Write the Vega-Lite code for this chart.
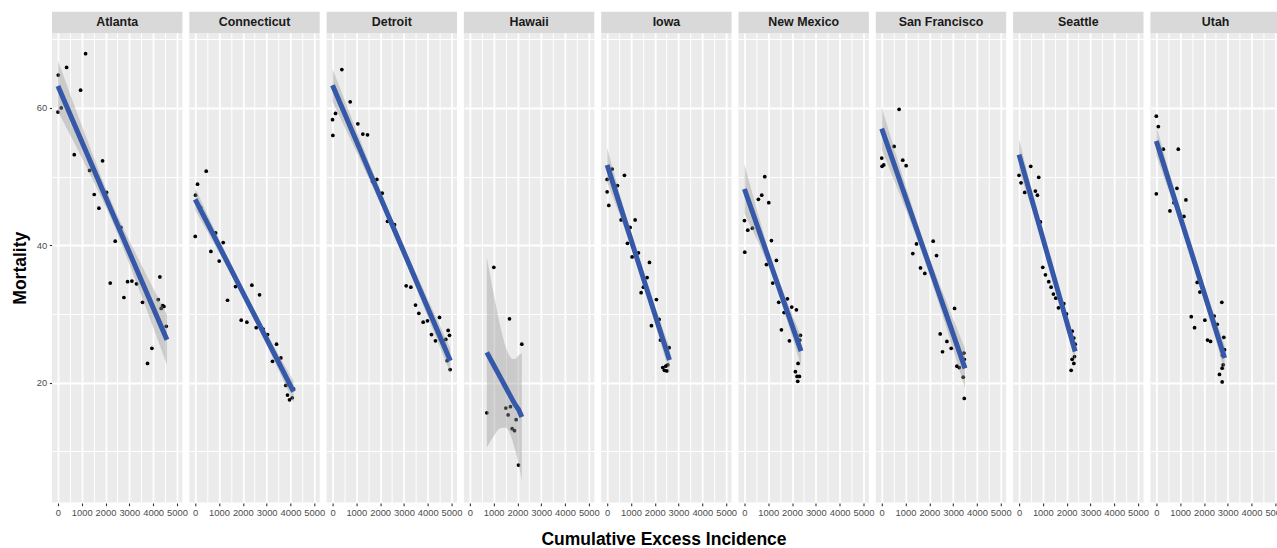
{
"$schema": "https://vega.github.io/schema/vega-lite/v6.json",
"background": "white",
"padding": {"left": 11, "top": 11, "right": 0, "bottom": 0},
"bounds": "flush",
"data": {"values": [
{"city":"Atlanta","kind":"p","x":0,"y":59.4},{"city":"Atlanta","kind":"p","x":14,"y":64.8},{"city":"Atlanta","kind":"p","x":140,"y":60.0},{"city":"Atlanta","kind":"p","x":364,"y":65.9},{"city":"Atlanta","kind":"p","x":1162,"y":67.9},{"city":"Atlanta","kind":"p","x":952,"y":62.6},{"city":"Atlanta","kind":"p","x":686,"y":53.2},{"city":"Atlanta","kind":"p","x":1330,"y":50.9},{"city":"Atlanta","kind":"p","x":1876,"y":52.3},{"city":"Atlanta","kind":"p","x":1526,"y":47.4},{"city":"Atlanta","kind":"p","x":1722,"y":45.4},{"city":"Atlanta","kind":"p","x":2044,"y":47.7},{"city":"Atlanta","kind":"p","x":2646,"y":42.6},{"city":"Atlanta","kind":"p","x":2408,"y":40.6},{"city":"Atlanta","kind":"p","x":2198,"y":34.5},{"city":"Atlanta","kind":"p","x":2772,"y":32.4},{"city":"Atlanta","kind":"p","x":2926,"y":34.7},{"city":"Atlanta","kind":"p","x":3108,"y":34.8},{"city":"Atlanta","kind":"p","x":3304,"y":34.4},{"city":"Atlanta","kind":"p","x":3556,"y":31.7},{"city":"Atlanta","kind":"p","x":3766,"y":22.8},{"city":"Atlanta","kind":"p","x":3948,"y":25.0},{"city":"Atlanta","kind":"p","x":4284,"y":35.4},{"city":"Atlanta","kind":"p","x":4214,"y":32.1},{"city":"Atlanta","kind":"p","x":4340,"y":30.8},{"city":"Atlanta","kind":"p","x":4396,"y":31.2},{"city":"Atlanta","kind":"p","x":4452,"y":31.1},{"city":"Atlanta","kind":"p","x":4550,"y":28.2},
{"city":"Connecticut","kind":"p","x":0,"y":41.3},{"city":"Connecticut","kind":"p","x":14,"y":47.3},{"city":"Connecticut","kind":"p","x":98,"y":48.9},{"city":"Connecticut","kind":"p","x":462,"y":50.8},{"city":"Connecticut","kind":"p","x":224,"y":45.5},{"city":"Connecticut","kind":"p","x":854,"y":41.8},{"city":"Connecticut","kind":"p","x":658,"y":39.1},{"city":"Connecticut","kind":"p","x":1176,"y":40.4},{"city":"Connecticut","kind":"p","x":1008,"y":37.7},{"city":"Connecticut","kind":"p","x":1358,"y":32.0},{"city":"Connecticut","kind":"p","x":1694,"y":34.0},{"city":"Connecticut","kind":"p","x":1932,"y":29.1},{"city":"Connecticut","kind":"p","x":2170,"y":28.8},{"city":"Connecticut","kind":"p","x":2380,"y":34.2},{"city":"Connecticut","kind":"p","x":2702,"y":32.8},{"city":"Connecticut","kind":"p","x":2562,"y":28.0},{"city":"Connecticut","kind":"p","x":2856,"y":27.8},{"city":"Connecticut","kind":"p","x":3038,"y":27.0},{"city":"Connecticut","kind":"p","x":3416,"y":25.6},{"city":"Connecticut","kind":"p","x":3248,"y":23.1},{"city":"Connecticut","kind":"p","x":3598,"y":23.6},{"city":"Connecticut","kind":"p","x":3808,"y":19.6},{"city":"Connecticut","kind":"p","x":3878,"y":18.2},{"city":"Connecticut","kind":"p","x":3962,"y":17.5},{"city":"Connecticut","kind":"p","x":4074,"y":17.8},{"city":"Connecticut","kind":"p","x":4130,"y":19.1},
{"city":"Detroit","kind":"p","x":0,"y":58.3},{"city":"Detroit","kind":"p","x":14,"y":56.0},{"city":"Detroit","kind":"p","x":126,"y":59.2},{"city":"Detroit","kind":"p","x":392,"y":65.6},{"city":"Detroit","kind":"p","x":742,"y":60.9},{"city":"Detroit","kind":"p","x":1064,"y":57.7},{"city":"Detroit","kind":"p","x":1274,"y":56.2},{"city":"Detroit","kind":"p","x":1470,"y":56.1},{"city":"Detroit","kind":"p","x":1680,"y":49.3},{"city":"Detroit","kind":"p","x":1862,"y":49.6},{"city":"Detroit","kind":"p","x":2086,"y":47.6},{"city":"Detroit","kind":"p","x":2310,"y":43.5},{"city":"Detroit","kind":"p","x":2604,"y":43.0},{"city":"Detroit","kind":"p","x":3094,"y":34.1},{"city":"Detroit","kind":"p","x":3290,"y":33.9},{"city":"Detroit","kind":"p","x":3486,"y":31.3},{"city":"Detroit","kind":"p","x":3626,"y":30.1},{"city":"Detroit","kind":"p","x":3808,"y":28.8},{"city":"Detroit","kind":"p","x":3990,"y":29.0},{"city":"Detroit","kind":"p","x":4158,"y":27.0},{"city":"Detroit","kind":"p","x":4326,"y":26.1},{"city":"Detroit","kind":"p","x":4494,"y":29.5},{"city":"Detroit","kind":"p","x":4760,"y":26.3},{"city":"Detroit","kind":"p","x":4858,"y":27.6},{"city":"Detroit","kind":"p","x":4914,"y":26.9},{"city":"Detroit","kind":"p","x":4816,"y":23.2},{"city":"Detroit","kind":"p","x":4942,"y":21.9},
{"city":"Hawaii","kind":"p","x":714,"y":15.6},{"city":"Hawaii","kind":"p","x":1008,"y":36.8},{"city":"Hawaii","kind":"p","x":1666,"y":29.3},{"city":"Hawaii","kind":"p","x":1512,"y":16.3},{"city":"Hawaii","kind":"p","x":1708,"y":16.5},{"city":"Hawaii","kind":"p","x":1610,"y":15.3},{"city":"Hawaii","kind":"p","x":1946,"y":14.6},{"city":"Hawaii","kind":"p","x":1778,"y":13.3},{"city":"Hawaii","kind":"p","x":1876,"y":13.0},{"city":"Hawaii","kind":"p","x":2184,"y":25.6},{"city":"Hawaii","kind":"p","x":2044,"y":8.0},
{"city":"Iowa","kind":"p","x":0,"y":49.6},{"city":"Iowa","kind":"p","x":210,"y":51.1},{"city":"Iowa","kind":"p","x":0,"y":47.8},{"city":"Iowa","kind":"p","x":70,"y":45.8},{"city":"Iowa","kind":"p","x":434,"y":48.7},{"city":"Iowa","kind":"p","x":728,"y":50.2},{"city":"Iowa","kind":"p","x":588,"y":43.7},{"city":"Iowa","kind":"p","x":966,"y":42.6},{"city":"Iowa","kind":"p","x":1176,"y":43.7},{"city":"Iowa","kind":"p","x":854,"y":40.3},{"city":"Iowa","kind":"p","x":1050,"y":38.3},{"city":"Iowa","kind":"p","x":1316,"y":38.9},{"city":"Iowa","kind":"p","x":1778,"y":37.5},{"city":"Iowa","kind":"p","x":1680,"y":35.3},{"city":"Iowa","kind":"p","x":1526,"y":33.9},{"city":"Iowa","kind":"p","x":1428,"y":33.1},{"city":"Iowa","kind":"p","x":2072,"y":32.1},{"city":"Iowa","kind":"p","x":1862,"y":28.3},{"city":"Iowa","kind":"p","x":2184,"y":29.2},{"city":"Iowa","kind":"p","x":2240,"y":26.2},{"city":"Iowa","kind":"p","x":2604,"y":25.1},{"city":"Iowa","kind":"p","x":2338,"y":22.2},{"city":"Iowa","kind":"p","x":2408,"y":21.8},{"city":"Iowa","kind":"p","x":2506,"y":21.7},{"city":"Iowa","kind":"p","x":2464,"y":22.4},{"city":"Iowa","kind":"p","x":2548,"y":22.6},
{"city":"New Mexico","kind":"p","x":0,"y":43.6},{"city":"New Mexico","kind":"p","x":14,"y":39.0},{"city":"New Mexico","kind":"p","x":140,"y":42.2},{"city":"New Mexico","kind":"p","x":336,"y":42.5},{"city":"New Mexico","kind":"p","x":588,"y":46.7},{"city":"New Mexico","kind":"p","x":728,"y":47.3},{"city":"New Mexico","kind":"p","x":854,"y":50.0},{"city":"New Mexico","kind":"p","x":1022,"y":46.2},{"city":"New Mexico","kind":"p","x":1134,"y":40.7},{"city":"New Mexico","kind":"p","x":924,"y":37.2},{"city":"New Mexico","kind":"p","x":1344,"y":37.8},{"city":"New Mexico","kind":"p","x":1190,"y":34.5},{"city":"New Mexico","kind":"p","x":1442,"y":31.7},{"city":"New Mexico","kind":"p","x":1806,"y":32.2},{"city":"New Mexico","kind":"p","x":1666,"y":30.2},{"city":"New Mexico","kind":"p","x":1988,"y":31.0},{"city":"New Mexico","kind":"p","x":2184,"y":30.6},{"city":"New Mexico","kind":"p","x":1554,"y":27.7},{"city":"New Mexico","kind":"p","x":1890,"y":26.1},{"city":"New Mexico","kind":"p","x":2352,"y":26.9},{"city":"New Mexico","kind":"p","x":2324,"y":26.2},{"city":"New Mexico","kind":"p","x":2254,"y":22.8},{"city":"New Mexico","kind":"p","x":2142,"y":21.6},{"city":"New Mexico","kind":"p","x":2212,"y":20.9},{"city":"New Mexico","kind":"p","x":2310,"y":20.9},{"city":"New Mexico","kind":"p","x":2240,"y":20.2},
{"city":"San Francisco","kind":"p","x":0,"y":52.7},{"city":"San Francisco","kind":"p","x":14,"y":51.5},{"city":"San Francisco","kind":"p","x":84,"y":51.7},{"city":"San Francisco","kind":"p","x":730,"y":59.8},{"city":"San Francisco","kind":"p","x":520,"y":54.4},{"city":"San Francisco","kind":"p","x":884,"y":52.4},{"city":"San Francisco","kind":"p","x":1025,"y":51.6},{"city":"San Francisco","kind":"p","x":1306,"y":38.8},{"city":"San Francisco","kind":"p","x":1460,"y":40.2},{"city":"San Francisco","kind":"p","x":2162,"y":40.6},{"city":"San Francisco","kind":"p","x":2302,"y":38.5},{"city":"San Francisco","kind":"p","x":1629,"y":36.7},{"city":"San Francisco","kind":"p","x":1811,"y":35.9},{"city":"San Francisco","kind":"p","x":3061,"y":30.8},{"city":"San Francisco","kind":"p","x":2457,"y":27.1},{"city":"San Francisco","kind":"p","x":2738,"y":26.0},{"city":"San Francisco","kind":"p","x":2555,"y":24.5},{"city":"San Francisco","kind":"p","x":2920,"y":25.0},{"city":"San Francisco","kind":"p","x":3159,"y":22.4},{"city":"San Francisco","kind":"p","x":3257,"y":22.2},{"city":"San Francisco","kind":"p","x":3454,"y":24.3},{"city":"San Francisco","kind":"p","x":3468,"y":23.4},{"city":"San Francisco","kind":"p","x":3426,"y":20.8},{"city":"San Francisco","kind":"p","x":3468,"y":17.7},
{"city":"Seattle","kind":"p","x":0,"y":50.2},{"city":"Seattle","kind":"p","x":84,"y":49.1},{"city":"Seattle","kind":"p","x":239,"y":47.7},{"city":"Seattle","kind":"p","x":491,"y":51.5},{"city":"Seattle","kind":"p","x":688,"y":47.9},{"city":"Seattle","kind":"p","x":772,"y":47.3},{"city":"Seattle","kind":"p","x":828,"y":49.9},{"city":"Seattle","kind":"p","x":898,"y":43.4},{"city":"Seattle","kind":"p","x":997,"y":36.8},{"city":"Seattle","kind":"p","x":1109,"y":35.7},{"city":"Seattle","kind":"p","x":1250,"y":34.7},{"city":"Seattle","kind":"p","x":1348,"y":33.9},{"city":"Seattle","kind":"p","x":1446,"y":32.9},{"city":"Seattle","kind":"p","x":1544,"y":32.3},{"city":"Seattle","kind":"p","x":1657,"y":30.9},{"city":"Seattle","kind":"p","x":1881,"y":31.5},{"city":"Seattle","kind":"p","x":1994,"y":30.0},{"city":"Seattle","kind":"p","x":2232,"y":27.5},{"city":"Seattle","kind":"p","x":2303,"y":26.5},{"city":"Seattle","kind":"p","x":2359,"y":25.6},{"city":"Seattle","kind":"p","x":2331,"y":23.8},{"city":"Seattle","kind":"p","x":2232,"y":23.4},{"city":"Seattle","kind":"p","x":2303,"y":22.8},{"city":"Seattle","kind":"p","x":2190,"y":21.8},
{"city":"Utah","kind":"p","x":0,"y":58.8},{"city":"Utah","kind":"p","x":84,"y":57.3},{"city":"Utah","kind":"p","x":293,"y":54.0},{"city":"Utah","kind":"p","x":922,"y":54.0},{"city":"Utah","kind":"p","x":0,"y":47.5},{"city":"Utah","kind":"p","x":866,"y":48.3},{"city":"Utah","kind":"p","x":740,"y":46.2},{"city":"Utah","kind":"p","x":573,"y":45.0},{"city":"Utah","kind":"p","x":1243,"y":46.6},{"city":"Utah","kind":"p","x":1160,"y":44.2},{"city":"Utah","kind":"p","x":1718,"y":34.6},{"city":"Utah","kind":"p","x":1830,"y":33.2},{"city":"Utah","kind":"p","x":1467,"y":29.6},{"city":"Utah","kind":"p","x":1607,"y":28.0},{"city":"Utah","kind":"p","x":2040,"y":29.1},{"city":"Utah","kind":"p","x":2431,"y":29.7},{"city":"Utah","kind":"p","x":2557,"y":28.5},{"city":"Utah","kind":"p","x":2752,"y":31.7},{"city":"Utah","kind":"p","x":2151,"y":26.2},{"city":"Utah","kind":"p","x":2277,"y":26.0},{"city":"Utah","kind":"p","x":2836,"y":26.6},{"city":"Utah","kind":"p","x":2864,"y":24.8},{"city":"Utah","kind":"p","x":2780,"y":24.0},{"city":"Utah","kind":"p","x":2766,"y":22.1},{"city":"Utah","kind":"p","x":2808,"y":22.6},{"city":"Utah","kind":"p","x":2654,"y":21.2},{"city":"Utah","kind":"p","x":2766,"y":20.1},
{"city":"Atlanta","kind":"f","x":0,"y":63.2,"lo":59.5,"hi":66.9},{"city":"Atlanta","kind":"f","x":1150,"y":53.92,"lo":51.75,"hi":56.09},{"city":"Atlanta","kind":"f","x":2300,"y":44.64,"lo":43.34,"hi":45.94},{"city":"Atlanta","kind":"f","x":3450,"y":35.36,"lo":33.19,"hi":37.53},{"city":"Atlanta","kind":"f","x":4580,"y":26.24,"lo":22.56,"hi":29.92},
{"city":"Connecticut","kind":"f","x":0,"y":46.7,"lo":45.1,"hi":48.3},{"city":"Connecticut","kind":"f","x":1050,"y":39.58,"lo":38.63,"hi":40.53},{"city":"Connecticut","kind":"f","x":2100,"y":32.46,"lo":31.86,"hi":33.06},{"city":"Connecticut","kind":"f","x":3150,"y":25.34,"lo":24.39,"hi":26.29},{"city":"Connecticut","kind":"f","x":4130,"y":18.7,"lo":17.15,"hi":20.25},
{"city":"Detroit","kind":"f","x":0,"y":63.3,"lo":60.9,"hi":65.7},{"city":"Detroit","kind":"f","x":1250,"y":53.17,"lo":51.77,"hi":54.57},{"city":"Detroit","kind":"f","x":2600,"y":42.24,"lo":41.44,"hi":43.04},{"city":"Detroit","kind":"f","x":3800,"y":32.52,"lo":31.32,"hi":33.72},{"city":"Detroit","kind":"f","x":4950,"y":23.2,"lo":21.4,"hi":25.0},
{"city":"Hawaii","kind":"f","x":714,"y":24.4,"lo":10.55,"hi":38.25},{"city":"Hawaii","kind":"f","x":1000,"y":22.57,"lo":12.19,"hi":32.95},{"city":"Hawaii","kind":"f","x":1300,"y":20.65,"lo":13.39,"hi":27.91},{"city":"Hawaii","kind":"f","x":1500,"y":19.37,"lo":13.48,"hi":25.26},{"city":"Hawaii","kind":"f","x":1640,"y":18.48,"lo":12.91,"hi":24.05},{"city":"Hawaii","kind":"f","x":1800,"y":17.46,"lo":11.47,"hi":23.45},{"city":"Hawaii","kind":"f","x":1900,"y":16.82,"lo":10.21,"hi":23.43},{"city":"Hawaii","kind":"f","x":2050,"y":16.08,"lo":8.17,"hi":23.99},{"city":"Hawaii","kind":"f","x":2184,"y":15.0,"lo":5.7,"hi":24.3},
{"city":"Iowa","kind":"f","x":0,"y":51.7,"lo":49.2,"hi":54.2},{"city":"Iowa","kind":"f","x":650,"y":44.65,"lo":43.25,"hi":46.05},{"city":"Iowa","kind":"f","x":1300,"y":37.61,"lo":36.81,"hi":38.41},{"city":"Iowa","kind":"f","x":1950,"y":30.56,"lo":29.36,"hi":31.76},{"city":"Iowa","kind":"f","x":2620,"y":23.3,"lo":21.4,"hi":25.2},
{"city":"New Mexico","kind":"f","x":0,"y":48.2,"lo":44.6,"hi":51.8},{"city":"New Mexico","kind":"f","x":600,"y":42.25,"lo":40.25,"hi":44.25},{"city":"New Mexico","kind":"f","x":1200,"y":36.3,"lo":35.3,"hi":37.3},{"city":"New Mexico","kind":"f","x":1800,"y":30.35,"lo":28.95,"hi":31.75},{"city":"New Mexico","kind":"f","x":2380,"y":24.6,"lo":22.4,"hi":26.8},
{"city":"San Francisco","kind":"f","x":0,"y":57.0,"lo":53.9,"hi":60.1},{"city":"San Francisco","kind":"f","x":875,"y":48.27,"lo":46.37,"hi":50.17},{"city":"San Francisco","kind":"f","x":1750,"y":39.54,"lo":38.34,"hi":40.74},{"city":"San Francisco","kind":"f","x":2625,"y":30.81,"lo":29.01,"hi":32.61},{"city":"San Francisco","kind":"f","x":3500,"y":22.08,"lo":19.18,"hi":24.98},
{"city":"Seattle","kind":"f","x":0,"y":53.2,"lo":50.9,"hi":55.5},{"city":"Seattle","kind":"f","x":590,"y":46.03,"lo":44.73,"hi":47.33},{"city":"Seattle","kind":"f","x":1180,"y":38.86,"lo":38.16,"hi":39.56},{"city":"Seattle","kind":"f","x":1770,"y":31.69,"lo":30.69,"hi":32.69},{"city":"Seattle","kind":"f","x":2360,"y":24.53,"lo":23.03,"hi":26.03},
{"city":"Utah","kind":"f","x":0,"y":55.2,"lo":53.0,"hi":57.4},{"city":"Utah","kind":"f","x":720,"y":47.27,"lo":45.97,"hi":48.57},{"city":"Utah","kind":"f","x":1440,"y":39.35,"lo":38.45,"hi":40.25},{"city":"Utah","kind":"f","x":2160,"y":31.42,"lo":30.22,"hi":32.62},{"city":"Utah","kind":"f","x":2870,"y":23.6,"lo":21.7,"hi":25.5}
]},
"facet": {"column": {"field": "city", "type": "nominal",
  "header": {"labels": false, "title": "Cumulative Excess Incidence", "titleOrient": "bottom",
    "titleFont": "Liberation Sans", "titleFontSize": 17.5, "titleFontWeight": "bold", "titleColor": "#000000", "titlePadding": 4}}},
"spacing": 6.3,
"spec": {
  "width": 130.4,
  "height": 469.4,
  "layer": [
    {
      "transform": [{"filter": "datum.kind === 'p'"}],
      "mark": {"type": "circle", "size": 14, "color": "#000000", "opacity": 1},
      "encoding": {
        "x": {"field": "x", "type": "quantitative",
          "scale": {"domain": [-249, 5230], "nice": false, "zero": false},
          "axis": {"values": [0,500,1000,1500,2000,2500,3000,3500,4000,4500,5000], "format": "d",
            "labelExpr": "datum.value % 1000 === 0 ? datum.label : ''",
            "title": null, "domain": false, "grid": true, "gridColor": "#FFFFFF", "gridOpacity": 1,
            "gridWidth": {"condition": {"test": "datum.value % 1000 === 0", "value": 1.8}, "value": 1.0},
            "tickColor": "#333333", "tickSize": 2.7, "tickWidth": 1.1,
            "tickOpacity": {"condition": {"test": "datum.value % 1000 === 0", "value": 1}, "value": 0},
            "labelFont": "Liberation Sans", "labelFontSize": 9.4, "labelColor": "#4D4D4D", "labelPadding": 2.5,
            "labelOverlap": false, "labelBound": false, "labelFlush": false}},
        "y": {"field": "y", "type": "quantitative",
          "scale": {"domain": [2.56, 70.92], "nice": false, "zero": false},
          "axis": {"values": [10,20,30,40,50,60,70],
            "labelExpr": "datum.value % 20 === 0 ? datum.label : ''",
            "title": "Mortality", "titleFont": "Liberation Sans", "titleFontSize": 17.5, "titleFontWeight": "bold", "titleColor": "#000000", "titlePadding": 7.3,
            "domain": false, "grid": true, "gridColor": "#FFFFFF", "gridOpacity": 1,
            "gridWidth": {"condition": {"test": "datum.value % 20 === 0", "value": 1.8}, "value": 1.0},
            "tickColor": "#333333", "tickSize": 2.7, "tickWidth": 1.1,
            "tickOpacity": {"condition": {"test": "datum.value % 20 === 0", "value": 1}, "value": 0},
            "labelFont": "Liberation Sans", "labelFontSize": 9.4, "labelColor": "#4D4D4D", "labelPadding": 2.5,
            "labelOverlap": false, "labelBound": false, "labelFlush": false}}
      }
    },
    {
      "transform": [{"filter": "datum.kind === 'f'"}],
      "mark": {"type": "area", "color": "#999999", "opacity": 0.4, "interpolate": "monotone"},
      "encoding": {
        "x": {"field": "x", "type": "quantitative",
          "axis": {"values": [0,500,1000,1500,2000,2500,3000,3500,4000,4500,5000], "format": "d",
            "labelExpr": "datum.value % 1000 === 0 ? datum.label : ''",
            "title": null, "domain": false, "grid": true, "gridColor": "#FFFFFF", "gridOpacity": 1,
            "gridWidth": {"condition": {"test": "datum.value % 1000 === 0", "value": 1.8}, "value": 1.0},
            "tickColor": "#333333", "tickSize": 2.7, "tickWidth": 1.1,
            "tickOpacity": {"condition": {"test": "datum.value % 1000 === 0", "value": 1}, "value": 0},
            "labelFont": "Liberation Sans", "labelFontSize": 9.4, "labelColor": "#4D4D4D", "labelPadding": 2.5,
            "labelOverlap": false, "labelBound": false, "labelFlush": false}},
        "y": {"field": "lo", "type": "quantitative", "title": "Mortality"},
        "y2": {"field": "hi"}
      }
    },
    {
      "transform": [{"filter": "datum.kind === 'f'"}],
      "mark": {"type": "line", "color": "#3558A8", "strokeWidth": 5},
      "encoding": {
        "x": {"field": "x", "type": "quantitative",
          "axis": {"values": [0,500,1000,1500,2000,2500,3000,3500,4000,4500,5000], "format": "d",
            "labelExpr": "datum.value % 1000 === 0 ? datum.label : ''",
            "title": null, "domain": false, "grid": true, "gridColor": "#FFFFFF", "gridOpacity": 1,
            "gridWidth": {"condition": {"test": "datum.value % 1000 === 0", "value": 1.8}, "value": 1.0},
            "tickColor": "#333333", "tickSize": 2.7, "tickWidth": 1.1,
            "tickOpacity": {"condition": {"test": "datum.value % 1000 === 0", "value": 1}, "value": 0},
            "labelFont": "Liberation Sans", "labelFontSize": 9.4, "labelColor": "#4D4D4D", "labelPadding": 2.5,
            "labelOverlap": false, "labelBound": false, "labelFlush": false}},
        "y": {"field": "y", "type": "quantitative", "title": "Mortality"}
      }
    },
    {
      "transform": [{"filter": "datum.kind === 'f'"}, {"aggregate": [{"op": "count", "as": "m"}], "groupby": ["city"]}],
      "mark": {"type": "rect", "color": "#D9D9D9", "clip": false},
      "encoding": {
        "y": {"datum": 70.92, "type": "quantitative", "title": "Mortality"},
        "y2": {"datum": 74.02}
      }
    },
    {
      "transform": [{"filter": "datum.kind === 'f'"}, {"aggregate": [{"op": "count", "as": "m"}], "groupby": ["city"]}],
      "mark": {"type": "text", "font": "Liberation Sans", "fontSize": 12.4, "fontWeight": "bold", "color": "#1A1A1A", "baseline": "middle", "align": "center", "clip": false},
      "encoding": {
        "y": {"datum": 72.47, "type": "quantitative", "title": "Mortality"},
        "text": {"field": "city"}
      }
    }
  ]
},
"config": {"view": {"fill": "#EBEBEB", "stroke": null}}
}
